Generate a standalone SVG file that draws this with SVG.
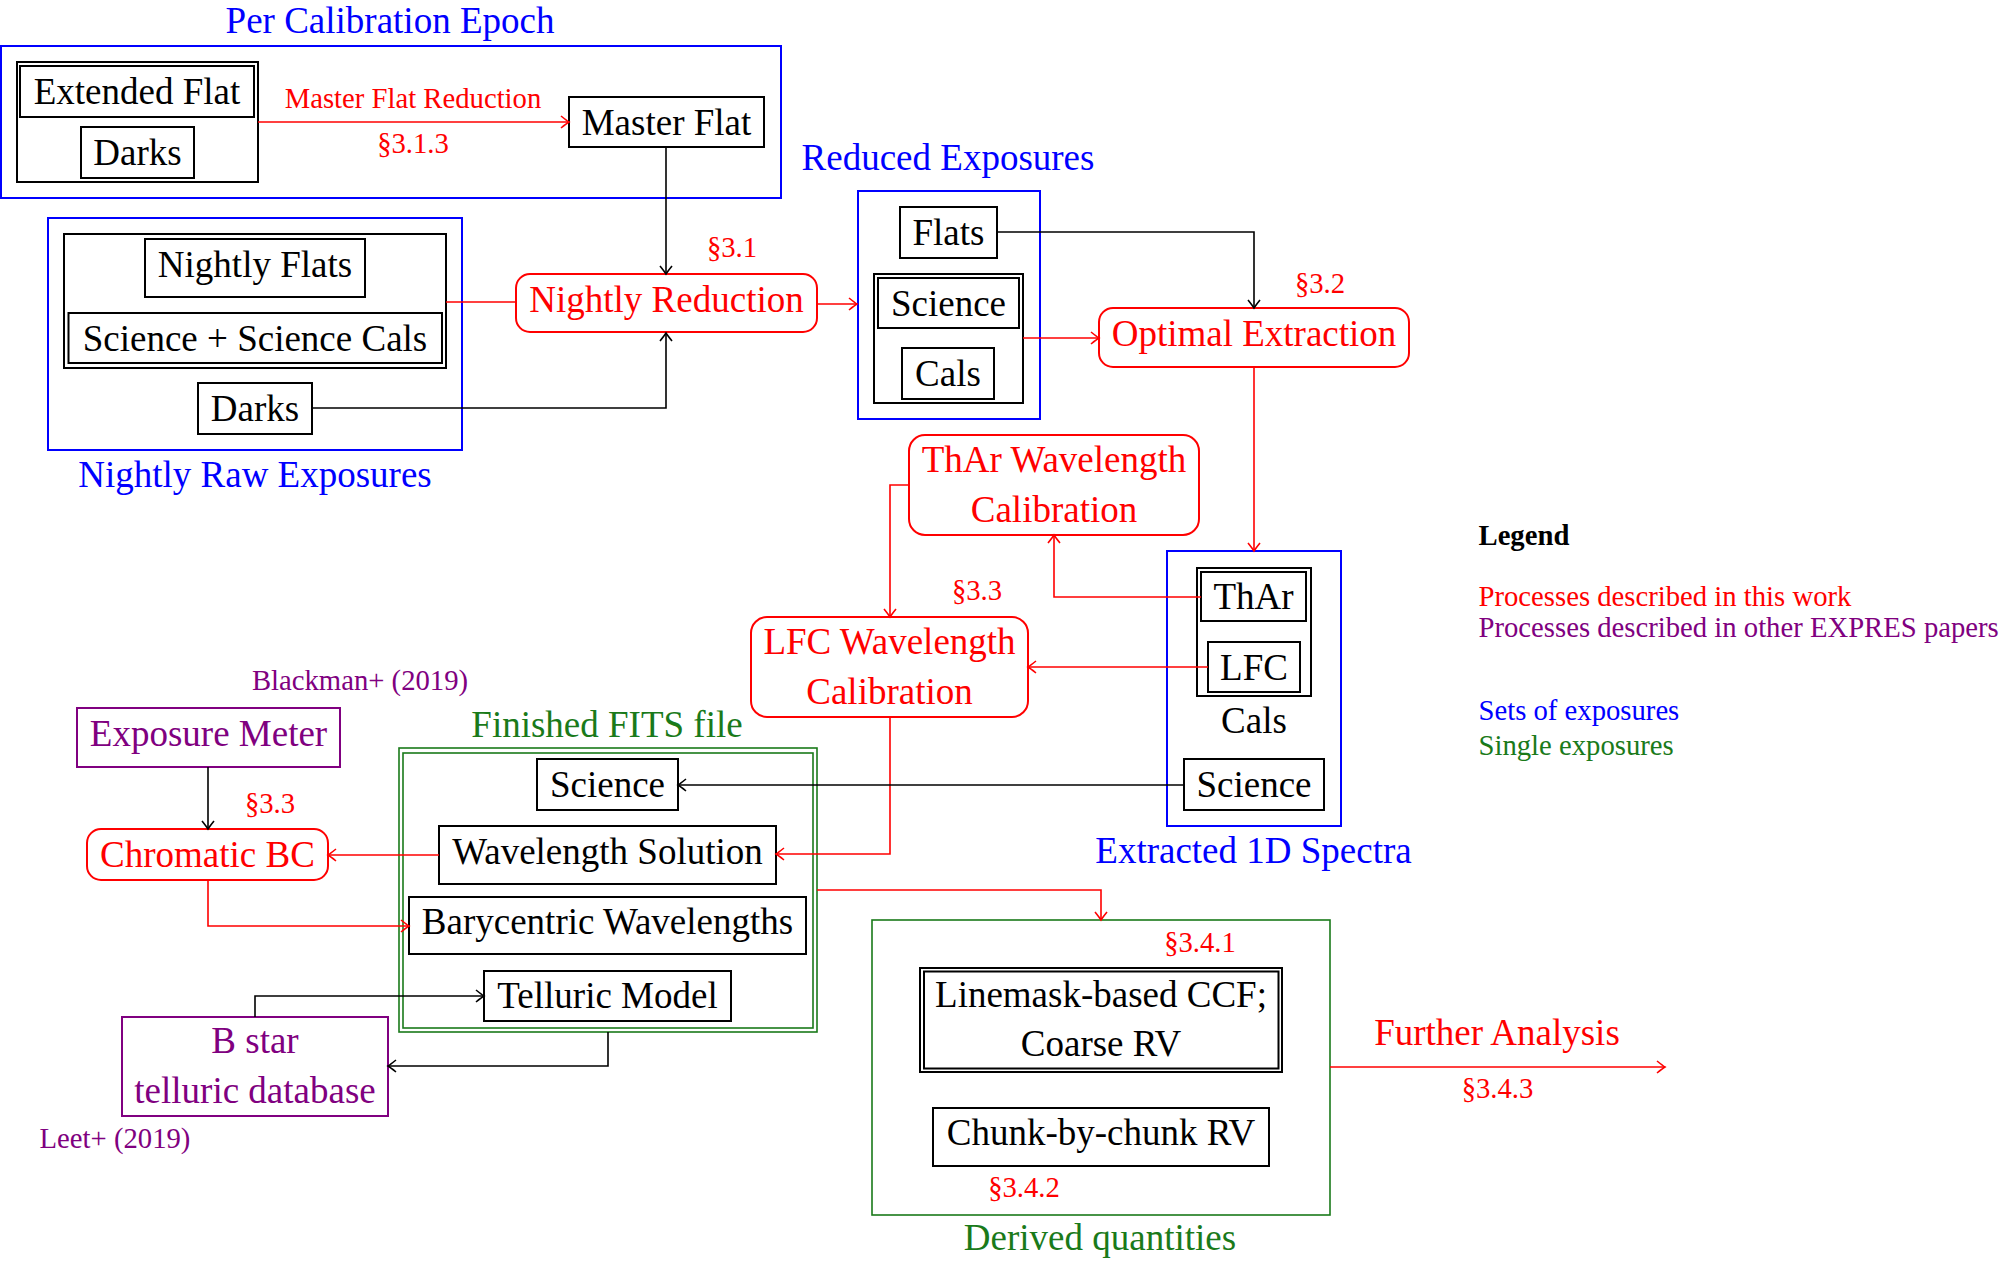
<svg xmlns="http://www.w3.org/2000/svg" width="2001" height="1261" viewBox="0 0 2001 1261">
<style>
text{font-family:"Liberation Serif","Times New Roman",serif;}
.t{font-size:37px;text-anchor:middle;fill:#000;}
.tr{font-size:37px;text-anchor:middle;fill:#ff0000;}
.tp{font-size:37px;text-anchor:middle;fill:#800080;}
.tb{font-size:37px;text-anchor:middle;fill:#0000ff;}
.tg{font-size:37px;text-anchor:middle;fill:#1a7a1a;}
.s{font-size:28.7px;text-anchor:middle;fill:#ff0000;}
.sp{font-size:28.7px;text-anchor:middle;fill:#800080;}
.lg{font-size:28.7px;}
.bx{fill:#fff;stroke:#000;stroke-width:2;}
.grp{fill:none;stroke:#000;stroke-width:2;}
.blue{fill:none;stroke:#0000ff;stroke-width:2;}
.green{fill:none;stroke:#1a7a1a;stroke-width:1.6;}
.proc{fill:#fff;stroke:#ff0000;stroke-width:2;}
.pur{fill:#fff;stroke:#800080;stroke-width:2;}
.ck{fill:none;stroke:#000;stroke-width:1.6;marker-end:url(#ak);}
.cr{fill:none;stroke:#ff0000;stroke-width:1.6;marker-end:url(#ar);}
</style>
<defs>
<marker id="ak" markerUnits="userSpaceOnUse" markerWidth="20" markerHeight="20" refX="0" refY="0" orient="auto" overflow="visible"><path d="M-8,-6 Q-2,-1.2 0,0 Q-2,1.2 -8,6" fill="none" stroke="#000" stroke-width="1.6"/></marker>
<marker id="ar" markerUnits="userSpaceOnUse" markerWidth="20" markerHeight="20" refX="0" refY="0" orient="auto" overflow="visible"><path d="M-8,-6 Q-2,-1.2 0,0 Q-2,1.2 -8,6" fill="none" stroke="#ff0000" stroke-width="1.6"/></marker>
</defs>
<rect width="2001" height="1261" fill="#fff"/>

<g id="per-calibration-epoch">
<rect class="blue" x="1" y="46" width="780" height="152"/>
<text class="tb" x="390" y="33">Per Calibration Epoch</text>
</g>
<g id="calib-inputs">
<rect class="grp" x="17" y="62" width="241" height="120"/>
</g>
<g id="extended-flat"><rect class="bx" x="20" y="66" width="234" height="51"/><text class="t" x="137" y="104">Extended Flat</text></g>
<g id="darks-calib"><rect class="bx" x="81" y="127" width="113" height="51"/><text class="t" x="137.5" y="165">Darks</text></g>
<g id="master-flat"><rect class="bx" x="569" y="97" width="195" height="50"/><text class="t" x="666.5" y="134.6">Master Flat</text></g>

<g id="nightly-raw-exposures">
<rect class="blue" x="48" y="218" width="414" height="232"/>
<text class="tb" x="255" y="487">Nightly Raw Exposures</text>
</g>
<g id="nightly-inputs"><rect class="grp" x="64" y="234" width="382" height="134"/></g>
<g id="nightly-flats"><rect class="bx" x="145" y="239" width="220" height="58"/><text class="t" x="255" y="276.6">Nightly Flats</text></g>
<g id="science-cals"><rect class="bx" x="68.5" y="313" width="373.5" height="50"/><text class="t" x="255" y="350.6">Science + Science Cals</text></g>
<g id="darks-nightly"><rect class="bx" x="198" y="383" width="114" height="51"/><text class="t" x="255" y="421">Darks</text></g>

<g id="nightly-reduction"><rect class="proc" x="516" y="274" width="301" height="58" rx="14"/><text class="tr" x="666.5" y="311.6">Nightly Reduction</text></g>

<g id="reduced-exposures">
<rect class="blue" x="858" y="191" width="182" height="228"/>
<text class="tb" x="948" y="170">Reduced Exposures</text>
</g>
<g id="reduced-flats"><rect class="bx" x="900" y="207" width="97" height="51"/><text class="t" x="948.5" y="245">Flats</text></g>
<g id="reduced-group"><rect class="grp" x="874" y="274" width="149" height="129"/></g>
<g id="reduced-science"><rect class="bx" x="878" y="278" width="141" height="50"/><text class="t" x="948.5" y="315.6">Science</text></g>
<g id="reduced-cals"><rect class="bx" x="902" y="348" width="92" height="51"/><text class="t" x="948" y="386">Cals</text></g>

<g id="optimal-extraction"><rect class="proc" x="1099" y="308" width="310" height="59" rx="14"/><text class="tr" x="1254" y="346">Optimal Extraction</text></g>

<g id="thar-wavelength"><rect class="proc" x="909" y="435" width="290" height="100" rx="16"/><text class="tr" x="1054" y="471.7">ThAr Wavelength</text><text class="tr" x="1054" y="521.7">Calibration</text></g>
<g id="lfc-wavelength"><rect class="proc" x="751" y="617" width="277" height="100" rx="16"/><text class="tr" x="889.5" y="654">LFC Wavelength</text><text class="tr" x="889.5" y="704">Calibration</text></g>

<g id="extracted-1d-spectra">
<rect class="blue" x="1167" y="551" width="174" height="275"/>
<text class="tb" x="1253.5" y="863">Extracted 1D Spectra</text>
<text class="t" x="1254" y="733">Cals</text>
</g>
<g id="extracted-cals"><rect class="grp" x="1197" y="568" width="114" height="128"/></g>
<g id="extracted-thar"><rect class="bx" x="1201" y="572" width="105" height="49"/><text class="t" x="1253.5" y="609">ThAr</text></g>
<g id="extracted-lfc"><rect class="bx" x="1208" y="642" width="92" height="50"/><text class="t" x="1254" y="679.6">LFC</text></g>
<g id="extracted-science"><rect class="bx" x="1184" y="759" width="140" height="51"/><text class="t" x="1254" y="797">Science</text></g>

<g id="exposure-meter"><rect class="pur" x="77" y="708" width="263" height="59"/><text class="tp" x="208.5" y="746">Exposure Meter</text></g>
<g id="chromatic-bc"><rect class="proc" x="87" y="829" width="241" height="51" rx="14"/><text class="tr" x="207.5" y="867">Chromatic BC</text></g>

<g id="finished-fits-file">
<rect class="green" x="399" y="748" width="418" height="284"/>
<rect class="green" x="403" y="753" width="410" height="275"/>
<text class="tg" x="607" y="737">Finished FITS file</text>
</g>
<g id="fits-science"><rect class="bx" x="537" y="759" width="141" height="51"/><text class="t" x="607.5" y="797">Science</text></g>
<g id="wavelength-solution"><rect class="bx" x="439" y="826" width="337" height="58"/><text class="t" x="607.5" y="863.6">Wavelength Solution</text></g>
<g id="barycentric-wavelengths"><rect class="bx" x="409" y="897" width="397" height="57"/><text class="t" x="607.5" y="934">Barycentric Wavelengths</text></g>
<g id="telluric-model"><rect class="bx" x="484" y="971" width="247" height="50"/><text class="t" x="607.5" y="1008">Telluric Model</text></g>

<g id="b-star-database"><rect class="pur" x="122" y="1017" width="266" height="99"/><text class="tp" x="255" y="1053">B star</text><text class="tp" x="255" y="1103">telluric database</text></g>

<g id="derived-quantities">
<rect class="green" x="872" y="920" width="458" height="295"/>
<text class="tg" x="1100" y="1250">Derived quantities</text>
</g>
<g id="linemask-ccf"><rect class="bx" x="920" y="968" width="362" height="104"/><rect class="grp" x="924" y="971.5" width="354.5" height="97"/><text class="t" x="1101" y="1006.7">Linemask-based CCF;</text><text class="t" x="1101" y="1056">Coarse RV</text></g>
<g id="chunk-rv"><rect class="bx" x="933" y="1108" width="336" height="58"/><text class="t" x="1101" y="1145">Chunk-by-chunk RV</text></g>

<g id="connectors">
<path class="cr" d="M258,122 H569"/>
<path class="ck" d="M666,147 V274"/>
<path fill="none" stroke="#ff0000" stroke-width="1.6" d="M446,302 H516"/>
<path class="ck" d="M312,408 H666 V333"/>
<path class="cr" d="M817,304 H857"/>
<path class="ck" d="M997,232 H1254 V308"/>
<path class="cr" d="M1023,338 H1099"/>
<path class="cr" d="M1254,367 V551"/>
<path class="cr" d="M1201,597 H1054 V535"/>
<path class="cr" d="M909,485 H890 V617"/>
<path class="cr" d="M1208,667 H1028"/>
<path class="cr" d="M890,717 V854 H776"/>
<path class="ck" d="M1184,785 H678"/>
<path class="cr" d="M439,855 H328"/>
<path class="ck" d="M208,767 V829"/>
<path class="cr" d="M208,880 V926 H409"/>
<path class="ck" d="M255,1017 V996 H484"/>
<path class="ck" d="M608,1032 V1066 H388"/>
<path class="cr" d="M817,890 H1101 V920"/>
<path class="cr" d="M1330,1067 H1665"/>
</g>

<g id="labels">
<text class="s" x="413" y="108">Master Flat Reduction</text>
<text class="s" x="413" y="153">§3.1.3</text>
<text class="s" x="732" y="257">§3.1</text>
<text class="s" x="1320" y="293">§3.2</text>
<text class="s" x="977" y="600">§3.3</text>
<text class="s" x="270" y="813">§3.3</text>
<text class="sp" x="360" y="690">Blackman+ (2019)</text>
<text class="sp" x="115" y="1148">Leet+ (2019)</text>
<text class="s" x="1200" y="952">§3.4.1</text>
<text class="s" x="1024" y="1197">§3.4.2</text>
<text class="tr" x="1497" y="1045">Further Analysis</text>
<text class="s" x="1497.5" y="1098">§3.4.3</text>
</g>

<g id="legend">
<text class="lg" x="1478.5" y="545" font-weight="bold" fill="#000">Legend</text>
<text class="lg" x="1478.5" y="606" fill="#ff0000">Processes described in this work</text>
<text class="lg" x="1478.5" y="637" fill="#800080">Processes described in other EXPRES papers</text>
<text class="lg" x="1478.5" y="720" fill="#0000ff">Sets of exposures</text>
<text class="lg" x="1478.5" y="755" fill="#1a7a1a">Single exposures</text>
</g>
</svg>
